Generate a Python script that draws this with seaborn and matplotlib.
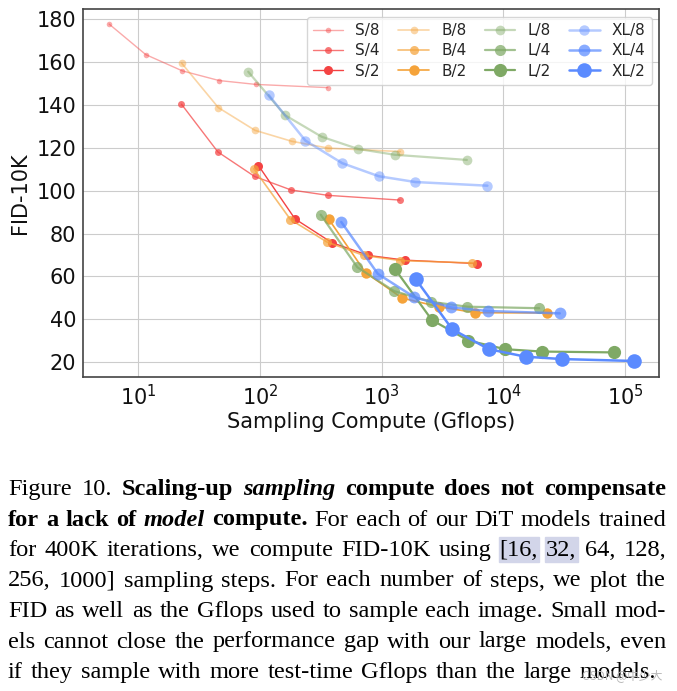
import numpy as np
import pandas as pd
import seaborn as sns
import matplotlib.pyplot as plt
from matplotlib.patches import Rectangle

sns.set_style("whitegrid")
plt.rcParams["font.family"] = ["DejaVu Sans"]
plt.rcParams["xtick.color"] = "#111111"
plt.rcParams["ytick.color"] = "#111111"
plt.rcParams["axes.labelcolor"] = "#111111"

# sampling compute (gflops) and FID-10K for [16, 32, 64, 128, 256, 1000] steps
s8_x = [5.76, 11.5, 23.0, 46.1, 92.2, 360]
s8_y = [177.6, 163.4, 155.8, 151.3, 149.5, 148.0]
s4_x = [22.6, 45.1, 90.2, 180, 361, 1410]
s4_y = [140.3, 118.0, 106.6, 100.3, 97.8, 95.6]
s2_x = [97, 194, 388, 776, 1550, 6060]
s2_y = [111.7, 86.8, 75.8, 69.8, 67.6, 66.0]
b8_x = [22.7, 45.4, 90.9, 182, 364, 1420]
b8_y = [159.4, 138.7, 128.1, 123.0, 119.8, 118.2]
b4_x = [89, 178, 356, 712, 1423, 5560]
b4_y = [110.2, 86.5, 76.0, 69.8, 67.4, 66.3]
b2_x = [368, 736, 1473, 2945, 5890, 23000]
b2_y = [86.6, 61.8, 49.9, 45.9, 43.1, 43.0]
l8_x = [80, 160, 321, 641, 1282, 5010]
l8_y = [155.4, 135.2, 125.1, 119.4, 116.7, 114.3]
l4_x = [315, 630, 1261, 2522, 5044, 19700]
l4_y = [88.8, 64.3, 53.2, 48.2, 45.9, 45.2]
l2_x = [1291, 2583, 5165, 10330, 20660, 80710]
l2_y = [63.3, 39.7, 30.1, 26.1, 25.0, 24.6]
xl8_x = [118, 236, 473, 946, 1892, 7390]
xl8_y = [144.5, 123.3, 112.8, 106.7, 104.0, 102.3]
xl4_x = [465, 930, 1859, 3718, 7436, 29050]
xl4_y = [85.4, 61.2, 50.3, 45.6, 43.9, 42.8]
xl2_x = [1898, 3797, 7593, 15190, 30370, 118640]
xl2_y = [58.8, 35.4, 26.1, 22.6, 21.5, 20.6]

models = ["S", "B", "L", "XL"]
patches = ["8", "4", "2"]
series = {
    "S/8": (s8_x, s8_y), "S/4": (s4_x, s4_y), "S/2": (s2_x, s2_y),
    "B/8": (b8_x, b8_y), "B/4": (b4_x, b4_y), "B/2": (b2_x, b2_y),
    "L/8": (l8_x, l8_y), "L/4": (l4_x, l4_y), "L/2": (l2_x, l2_y),
    "XL/8": (xl8_x, xl8_y), "XL/4": (xl4_x, xl4_y), "XL/2": (xl2_x, xl2_y),
}

colors = {"S": "#f44343", "B": "#f5a33a", "L": "#7fa965", "XL": "#5b8bff"}
alphas = {"8": 0.45, "4": 0.72, "2": 1.0}
msizes = {"S": [4, 5, 6.5], "B": [5.5, 6.5, 7.5], "L": [7, 8, 9.5], "XL": [7.5, 8.5, 10.5]}
lwidths = {"S": 1.0, "B": 1.2, "L": 1.6, "XL": 1.8}

rows = []
for name, (xs, ys) in series.items():
    for x, y in zip(xs, ys):
        rows.append({"model": name, "gflops": x, "fid": y})
df = pd.DataFrame(rows)

W, H = 677, 691
fig = plt.figure(figsize=(W / 100, H / 100), dpi=100)
ax = fig.add_axes([82.7 / W, 1 - 377.3 / H, (659.3 - 82.7) / W, (377.3 - 9.3) / H])

for m in models:
    for i, p in enumerate(patches):
        name = m + "/" + p
        sub = df[df["model"] == name]
        sns.lineplot(
            data=sub, x="gflops", y="fid", ax=ax, color=colors[m],
            alpha=alphas[p], marker="o", markersize=msizes[m][i],
            markeredgewidth=0, linewidth=lwidths[m], label=name,
        )

ax.set_xscale("log")
ax.set_xlim(3.49, 191000)
ax.set_ylim(13.0, 184.5)
ax.set_yticks([20, 40, 60, 80, 100, 120, 140, 160, 180])
ax.set_xticks([1e1, 1e2, 1e3, 1e4, 1e5])
ax.minorticks_off()
ax.tick_params(labelsize=15, pad=1)
ax.set_xlabel("Sampling Compute (Gflops)", fontsize=15, labelpad=2)
ax.set_ylabel("FID-10K", fontsize=15, labelpad=5)
for sp in ax.spines.values():
    sp.set_color("#444444")
    sp.set_linewidth(1.2)
ax.legend(ncol=4, loc="upper right", fontsize=11, framealpha=0.8,
          handlelength=2.0, columnspacing=1.2, labelspacing=0.35)

# caption, justified word by word
caption = [
    [("Figure 10.", "n"), ("Scaling-up", "b"), ("sampling", "bi"),
     ("compute does not compensate", "b")],
    [("for a lack of", "b"), ("model", "bi"), ("compute.", "b"),
     ("For each of our DiT models trained", "n")],
    [("for 400K iterations, we compute FID-10K using", "n"), ("[16,", "h"),
     ("32,", "h"), ("64, 128,", "n")],
    [("256, 1000] sampling steps. For each number of steps, we plot the", "n")],
    [("FID as well as the Gflops used to sample each image. Small mod-", "n")],
    [("els cannot close the performance gap with our large models, even", "n")],
    [("if they sample with more test-time Gflops than the large models.", "n")],
]
styles = {
    "n": dict(weight="normal", style="normal"),
    "h": dict(weight="normal", style="normal"),
    "b": dict(weight="bold", style="normal"),
    "bi": dict(weight="bold", style="italic"),
}
cap_size = 17.6
x_left, x_right = 8, 666
base0, step = 495, 30.5
renderer = fig.canvas.get_renderer()

def word_width(w, st):
    t = fig.text(0, 0, w, fontsize=cap_size, family="Liberation Serif", **styles[st])
    wd = t.get_window_extent(renderer).width
    t.remove()
    return wd

space_w = word_width("x x", "n") - word_width("xx", "n")

for li, line in enumerate(caption):
    words = []
    for seg, st in line:
        for w in seg.split():
            words.append((w, st))
    widths = [word_width(w, st) for w, st in words]
    gap = (x_right - x_left - sum(widths)) / (len(words) - 1)
    if li == len(caption) - 1:
        gap = min(gap, space_w * 1.3)
    xpos = x_left
    yb = base0 + li * step
    for (w, st), wd in zip(words, widths):
        if st == "h":
            fig.patches.append(Rectangle(((xpos - 1) / W, 1 - (yb + 6) / H), (wd + 2) / W, 25 / H,
                                         transform=fig.transFigure, color="#d2d5e9", zorder=0))
        fig.text(xpos / W, 1 - yb / H, w, fontsize=cap_size, family="Liberation Serif",
                 va="baseline", ha="left", color="black", **styles[st])
        xpos += wd + gap

fig.text(582 / W, 1 - 679 / H, "CSDN @中少大", fontsize=8.5, color="#b8b8b8",
         family=["Noto Sans CJK SC", "DejaVu Sans"], va="baseline", ha="left")

fig.savefig("out.png", dpi=100)
